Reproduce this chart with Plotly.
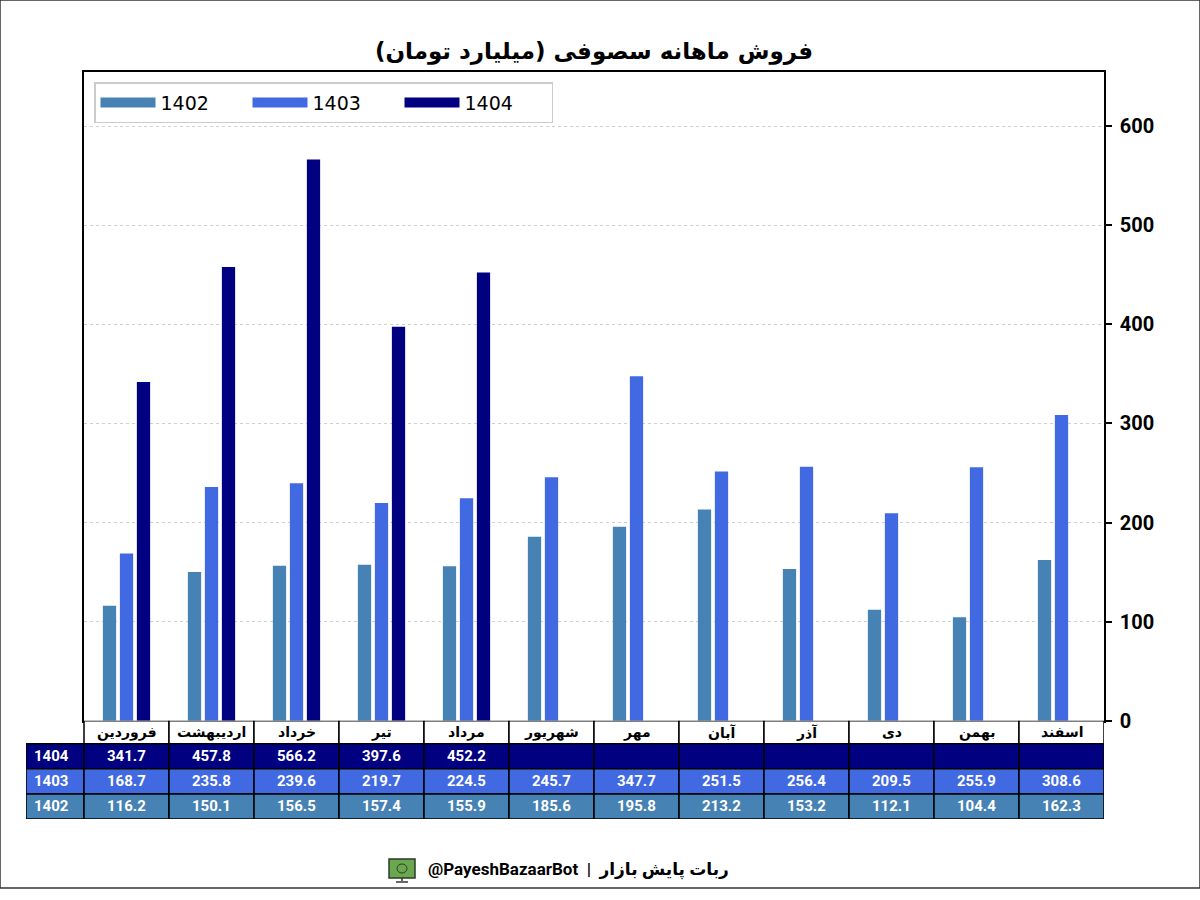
import plotly.graph_objects as go

months = ["فروردین", "اردیبهشت", "خرداد", "تیر", "مرداد", "شهریور",
          "مهر", "آبان", "آذر", "دی", "بهمن", "اسفند"]
s1402 = [116.2, 150.1, 156.5, 157.4, 155.9, 185.6, 195.8, 213.2, 153.2, 112.1, 104.4, 162.3]
s1403 = [168.7, 235.8, 239.6, 219.7, 224.5, 245.7, 347.7, 251.5, 256.4, 209.5, 255.9, 308.6]
s1404 = [341.7, 457.8, 566.2, 397.6, 452.2, None, None, None, None, None, None, None]
series_names = ["1402", "1403", "1404"]
colors = {"1402": "#4682B4", "1403": "#4169E1", "1404": "#000080"}
title_text = "فروش ماهانه سصوفی (میلیارد تومان)"
footer_text = "@PayeshBazaarBot  |  ربات پایش بازار"

W, H = 1200, 900
HE = 887.0   # effective drawn height observed in the viewer
px = lambda v: v / W
py = lambda v: (HE - v) / HE

fig = go.Figure()
series = {"1402": s1402, "1403": s1403, "1404": s1404}
for name in series_names:
    fig.add_trace(go.Bar(x=list(range(len(months))), y=series[name], name=name,
                         marker_color=colors[name], marker_line_width=0,
                         showlegend=False))
# legend entries (wide swatches)
for name in series_names:
    fig.add_trace(go.Scatter(x=[None], y=[None], mode="lines", name=name,
                             line=dict(color=colors[name], width=15)))

# ---------- table (on its own hidden axes) ----------
LABEL_W = 58 / 85          # label column width in category units
HEAD_H = 23 / 25           # header row height in row units
xl = -0.5 - LABEL_W
table_rows = [("1404", s1404), ("1403", s1403), ("1402", s1402)]
shapes = []
annotations = []
tfont = dict(family="Roboto", size=15, color="white")
for i, m in enumerate(months):
    shapes.append(dict(type="rect", xref="x2", yref="y2",
                       x0=i - 0.5, x1=i + 0.5, y0=3, y1=3 + HEAD_H,
                       fillcolor="white", line=dict(color="black", width=1.5)))
    annotations.append(dict(xref="x2", yref="y2", x=i, y=3 + HEAD_H / 2,
                            text=f"<b>{m}</b>", showarrow=False,
                            font=dict(family="DejaVu Sans", size=14, color="black")))
for r, (label, vals) in enumerate(table_rows):
    y0 = 2 - r
    fill = colors[label]
    shapes.append(dict(type="rect", xref="x2", yref="y2",
                       x0=xl, x1=-0.5, y0=y0, y1=y0 + 1,
                       fillcolor=fill, line=dict(color="black", width=1.5)))
    annotations.append(dict(xref="x2", yref="y2", x=xl + 0.07, y=y0 + 0.5,
                            xanchor="left", text=f"<b>{label}</b>",
                            showarrow=False, font=tfont))
    for i, v in enumerate(vals):
        shapes.append(dict(type="rect", xref="x2", yref="y2",
                           x0=i - 0.5, x1=i + 0.5, y0=y0, y1=y0 + 1,
                           fillcolor=fill, line=dict(color="black", width=1.5)))
        if v is not None:
            annotations.append(dict(xref="x2", yref="y2", x=i, y=y0 + 0.5,
                                    text=f"<b>{v:.1f}</b>", showarrow=False,
                                    font=tfont))

fig.update_layout(
    width=W, height=H, autosize=False,
    margin=dict(l=0, r=0, t=0, b=0),
    paper_bgcolor="white", plot_bgcolor="white",
    barmode="group", bargap=0.4, bargroupgap=0.22,
    title=dict(text=f"<b>{title_text}</b>", x=0.495, xanchor="center",
               y=py(50), yanchor="middle",
               font=dict(family="DejaVu Sans", size=23, color="black")),
    xaxis=dict(domain=[px(84), px(1104)], range=[-0.5, 11.5],
               showticklabels=False, ticks="", showgrid=False, zeroline=False,
               showline=True, linecolor="black", linewidth=1.5, mirror=True),
    yaxis=dict(domain=[py(720), py(72)], range=[0, 654.5], side="right",
               dtick=100, ticks="outside", ticklen=6, tickcolor="black",
               tickwidth=1.5, ticklabelstandoff=4,
               tickfont=dict(family="Roboto", size=20, color="black", weight="bold"),
               showgrid=True, gridcolor="#d0d0d0", griddash="dot", gridwidth=0.8,
               zeroline=False,
               showline=True, linecolor="black", linewidth=1.5, mirror=True),
    xaxis2=dict(domain=[px(26), px(1104)], range=[xl, 11.5], anchor="y2",
                visible=False, fixedrange=True),
    yaxis2=dict(domain=[py(818), py(720)], range=[0, 3 + HEAD_H], anchor="x2",
                visible=False, fixedrange=True),
    legend=dict(orientation="h", x=px(94), y=py(82), xanchor="left", yanchor="top",
                bgcolor="white", bordercolor="#cccccc", borderwidth=1.5,
                font=dict(family="DejaVu Sans", size=19, color="black"),
                itemwidth=55, entrywidth=82, entrywidthmode="pixels",
                traceorder="normal"),
    showlegend=True,
    shapes=shapes,
    annotations=annotations,
)

fig.add_annotation(text=f"<b>{footer_text}</b>", x=px(578), y=py(869),
                   xref="paper", yref="paper", xanchor="center", yanchor="middle",
                   showarrow=False,
                   font=dict(family="Roboto, DejaVu Sans", size=17, color="black"))

fig.add_shape(type="rect", xref="paper", yref="paper",
              x0=px(389), x1=px(415), y0=py(877), y1=py(858),
              fillcolor="#6aa84f", line=dict(color="#2d3a2a", width=1.5))
fig.add_shape(type="circle", xref="paper", yref="paper",
              x0=px(397), x1=px(407), y0=py(872), y1=py(863),
              fillcolor="rgba(0,0,0,0)", line=dict(color="#2d3a2a", width=1))
fig.add_shape(type="line", xref="paper", yref="paper",
              x0=px(402), x1=px(402), y0=py(880), y1=py(877),
              line=dict(color="#2d3a2a", width=1.5))
fig.add_shape(type="line", xref="paper", yref="paper",
              x0=px(396), x1=px(408), y0=py(881), y1=py(881),
              line=dict(color="#2d3a2a", width=1.5))
fig.add_shape(type="rect", xref="paper", yref="paper",
              x0=0, x1=1, y0=0, y1=1, line=dict(color="#333333", width=1.5),
              fillcolor="rgba(0,0,0,0)")

fig.write_html(
    "out.html", config={"displayModeBar": False, "responsive": False},
    default_width="1200px", default_height="900px",
    post_script=("document.documentElement.style.margin='0';"
                 "document.documentElement.style.overflow='hidden';"
                 "document.body.style.margin='0';"
                 "document.body.style.overflow='hidden';"))
